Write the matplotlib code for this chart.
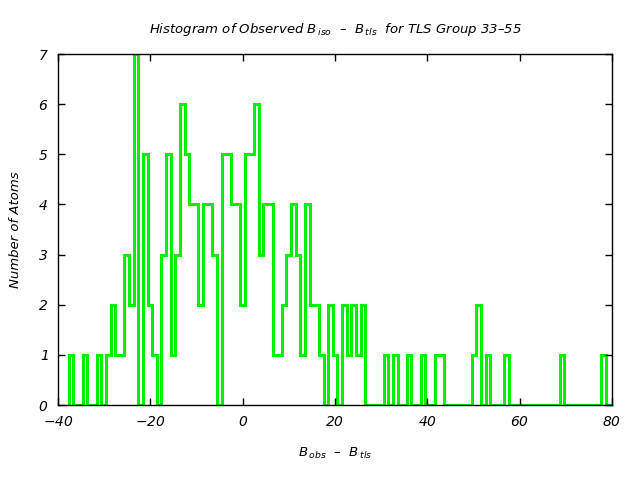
import numpy as np
import matplotlib
matplotlib.use("Agg")
import matplotlib.pyplot as plt

# counts per bin (bins ~1 unit wide)
counts = [1, 0, 0, 1, 0, 0, 1, 0, 1, 2,
          1, 1, 3, 2, 7, 0, 5, 2, 1, 0,
          3, 5, 1, 3, 6, 5, 4, 4, 2, 4,
          4, 3, 0, 5, 5, 4, 4, 2, 5, 5,
          6, 3, 4, 4, 1, 1, 2, 3, 4, 3,
          1, 4, 2, 2, 1, 0, 2, 1, 0, 2,
          1, 2, 1, 2, 0, 0, 0, 0, 1, 0,
          1, 0, 0, 1, 0, 0, 1, 0, 0, 1,
          1, 0, 0, 0, 0, 0, 0, 1, 2, 0,
          1, 0, 0, 0, 1, 0, 0, 0, 0, 0,
          0, 0, 0, 0, 0, 0, 1, 0, 0, 0,
          0, 0, 0, 0, 0, 1, 0]
bin_start = -37.65
bin_width = 1.003
edges = bin_start + bin_width * np.arange(len(counts) + 1)

xticks = [-40, -20, 0, 20, 40, 60, 80]
yticks = [0, 1, 2, 3, 4, 5, 6, 7]

font = "DejaVu Sans"
plt.rcParams["font.family"] = [font]
plt.rcParams["font.style"] = "italic"
plt.rcParams["mathtext.fontset"] = "custom"
plt.rcParams["mathtext.it"] = font + ":italic"
plt.rcParams["mathtext.rm"] = font + ":italic"
plt.rcParams["mathtext.sf"] = font + ":italic"
plt.rcParams["mathtext.default"] = "it"

fig = plt.figure(figsize=(6.4, 4.8), dpi=100)
ax = fig.add_axes([0.0906, 0.156, 0.8656, 0.7315])

ax.stairs(counts, edges, baseline=0, color="#00f000", linewidth=2.2)

ax.set_xlim(-40, 80)
ax.set_ylim(0, 7)
# tick labels through mathtext so they come out in the italic face
ax.set_xticks(xticks, labels=[f"${v}$" for v in xticks])
ax.set_yticks(yticks, labels=[f"${v}$" for v in yticks])
ax.tick_params(direction="in", length=5, width=1, top=True, right=True,
               labelsize=10, pad=7)
for s in ax.spines.values():
    s.set_linewidth(1)

ax.set_title(r"Histogram of Observed $B_{\,iso}$  –  $B_{\,tls}$  for TLS Group 33–55",
             fontsize=9.5, pad=15)
ax.set_xlabel(r"$B_{\,obs}$  –  $B_{\,tls}$", fontsize=9.5, labelpad=12)
ax.set_ylabel("Number of Atoms", fontsize=9.5, labelpad=11)

fig.savefig("out.png", dpi=100)
